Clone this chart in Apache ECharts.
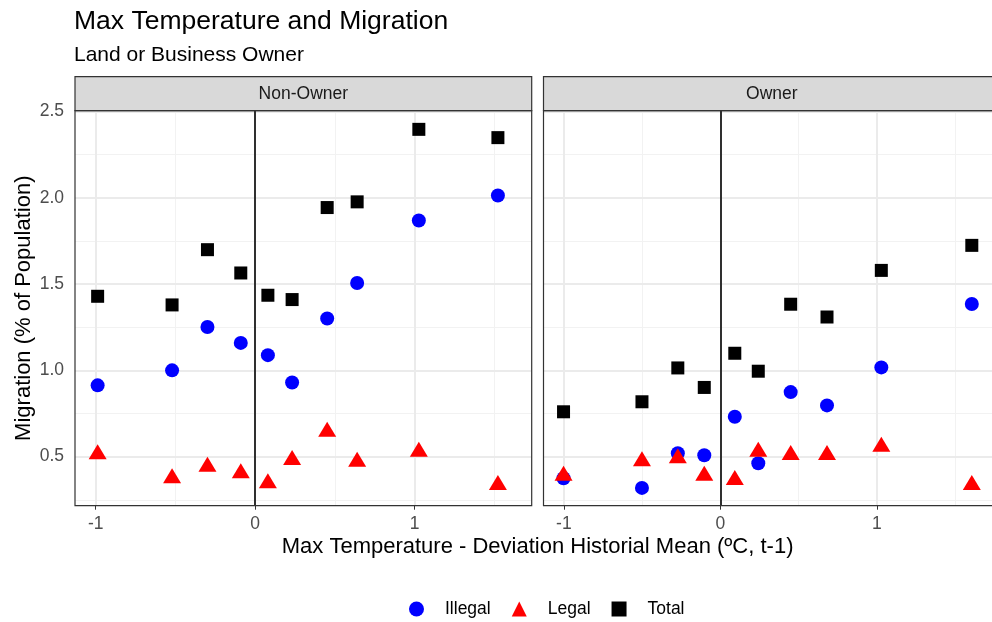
<!DOCTYPE html>
<html>
<head>
<meta charset="utf-8">
<title>Max Temperature and Migration</title>
<script src="https://cdn.jsdelivr.net/npm/echarts@6.0.0/dist/echarts.min.js"></script>
<style>
  html, body { margin: 0; padding: 0; background: #fff; }
  #chart { width: 992px; height: 622px; }
</style>
</head>
<body>
<div id="chart"></div>
<script>
// 刻度与网格
const xTicks = [-1, 0, 1];
const xMinorGrid = [-0.5, 0.5, 1.5];
const yTicks = [0.5, 1.0, 1.5, 2.0, 2.5];
const yMinorGrid = [0.25, 0.75, 1.25, 1.75, 2.25];

// Non-Owner 面板
const nonOwnerTemp = [-0.988, -0.521, -0.299, -0.090, 0.080, 0.232, 0.452, 0.640, 1.027, 1.523];
const nonOwnerIllegal = [0.913, 1.000, 1.251, 1.159, 1.088, 0.930, 1.300, 1.506, 1.868, 2.013];
const nonOwnerLegal = [0.514, 0.375, 0.442, 0.404, 0.346, 0.481, 0.645, 0.471, 0.529, 0.336];
const nonOwnerTotal = [1.429, 1.379, 1.699, 1.564, 1.435, 1.410, 1.943, 1.976, 2.396, 2.348];

// Owner 面板
const ownerTemp = [-1.002, -0.501, -0.272, -0.103, 0.092, 0.242, 0.449, 0.681, 1.028, 1.606];
const ownerIllegal = [0.375, 0.319, 0.520, 0.508, 0.731, 0.462, 0.874, 0.797, 1.017, 1.384];
const ownerLegal = [0.390, 0.473, 0.491, 0.390, 0.365, 0.529, 0.510, 0.510, 0.558, 0.336];
const ownerTotal = [0.760, 0.818, 1.014, 0.901, 1.099, 0.995, 1.383, 1.309, 1.579, 1.724];

const FONT = "Liberation Sans, Arial, sans-serif";
const panelLeft = [75, 543.5];
const panelW = 456.7;
const panelTop = 110.7;
const panelH = 395;

const pairs = (xs, ys) => xs.map((x, i) => [x, ys[i]]);

function xAxisOpt(gridIndex) {
  return {
    type: "value",
    gridIndex: gridIndex,
    min: -1.13,
    max: 1.735,
    axisLine: { show: false },
    splitLine: { show: false },
    axisTick: { show: true, customValues: xTicks, length: 4, lineStyle: { color: "#333333", width: 1 } },
    axisLabel: {
      customValues: xTicks,
      color: "#4d4d4d",
      fontSize: 17.5,
      fontFamily: FONT,
      margin: 9,
      formatter: v => String(v)
    }
  };
}

function yAxisOpt(gridIndex, withLabels) {
  return {
    type: "value",
    gridIndex: gridIndex,
    min: 0.216,
    max: 2.504,
    axisLine: { show: false },
    splitLine: { show: false },
    axisTick: { show: withLabels, customValues: yTicks, length: 4, lineStyle: { color: "#333333", width: 1 } },
    axisLabel: {
      show: withLabels,
      customValues: yTicks,
      color: "#4d4d4d",
      fontSize: 17.5,
      fontFamily: FONT,
      margin: 11,
      formatter: v => v.toFixed(1)
    },
    name: withLabels ? "Migration (% of Population)" : "",
    nameLocation: "middle",
    nameRotate: 90,
    nameGap: 40,
    nameTextStyle: { color: "#000", fontSize: 22, fontFamily: FONT }
  };
}

// 网格线（主/次）和 0 参考线
function gridLines(idx) {
  const data = [];
  yMinorGrid.forEach(v => data.push({ yAxis: v, lineStyle: { color: "#f2f2f2", width: 1, type: "solid" } }));
  xMinorGrid.forEach(v => data.push({ xAxis: v, lineStyle: { color: "#f2f2f2", width: 1, type: "solid" } }));
  yTicks.forEach(v => data.push({ yAxis: v, lineStyle: { color: "#ebebeb", width: 2, type: "solid" } }));
  xTicks.forEach(v => data.push({ xAxis: v, lineStyle: { color: "#ebebeb", width: 2, type: "solid" } }));
  return {
    type: "scatter",
    name: "grid" + idx,
    xAxisIndex: idx,
    yAxisIndex: idx,
    data: [],
    z: 1,
    silent: true,
    markLine: {
      z: 1,
      silent: true,
      animation: false,
      symbol: ["none", "none"],
      label: { show: false },
      data: data
    }
  };
}

function zeroLine(idx) {
  return {
    type: "scatter",
    name: "zero" + idx,
    xAxisIndex: idx,
    yAxisIndex: idx,
    data: [],
    z: 2,
    silent: true,
    markLine: {
      z: 2,
      silent: true,
      animation: false,
      symbol: ["none", "none"],
      label: { show: false },
      data: [{ xAxis: 0, lineStyle: { color: "#000000", width: 1.6, type: "solid" } }]
    }
  };
}

function pointSeries(idx, name, data, symbol, size, color, offset) {
  return {
    type: "scatter",
    name: name,
    xAxisIndex: idx,
    yAxisIndex: idx,
    data: data,
    symbol: symbol,
    symbolSize: size,
    symbolOffset: offset || [0, 0],
    itemStyle: { color: color, opacity: 1 },
    z: 5,
    animation: false
  };
}

const chart = echarts.init(document.getElementById("chart"), null, { renderer: "canvas" });

const strips = [
  { label: "Non-Owner", left: panelLeft[0] },
  { label: "Owner", left: panelLeft[1] }
];

const graphics = [];
strips.forEach(s => {
  graphics.push({
    type: "rect",
    z: 10,
    shape: { x: s.left, y: 76.7, width: panelW, height: panelTop - 76.7 },
    style: { fill: "#d9d9d9", stroke: "#333333", lineWidth: 1.2 }
  });
  graphics.push({
    type: "text",
    z: 11,
    x: s.left + panelW / 2,
    y: 94,
    style: { text: s.label, fill: "#1a1a1a", font: "17.5px " + FONT, align: "center", verticalAlign: "middle" }
  });
  graphics.push({
    type: "rect",
    z: 10,
    shape: { x: s.left, y: panelTop, width: panelW, height: panelH },
    style: { fill: null, stroke: "#333333", lineWidth: 1.2 }
  });
});
graphics.push({
  type: "text",
  z: 11,
  x: (panelLeft[0] + panelLeft[1] + panelW) / 2,
  y: 547,
  style: {
    text: "Max Temperature - Deviation Historial Mean (ºC, t-1)",
    fill: "#000", font: "22px " + FONT, align: "center", verticalAlign: "middle"
  }
});

const option = {
  backgroundColor: "#ffffff",
  animation: false,
  title: [
    { text: "Max Temperature and Migration", left: 74, top: 8, padding: 0,
      textStyle: { fontSize: 26.5, fontWeight: "normal", color: "#000", fontFamily: FONT } },
    { text: "Land or Business Owner", left: 74, top: 45, padding: 0,
      textStyle: { fontSize: 21, fontWeight: "normal", color: "#000", fontFamily: FONT } }
  ],
  legend: {
    data: ["Illegal", "Legal", "Total"],
    left: 409,
    top: 600,
    padding: 0,
    itemWidth: 15,
    itemHeight: 15,
    itemGap: 21,
    textStyle: { fontSize: 17.5, color: "#000", fontFamily: FONT, padding: [0, 0, 0, 16] }
  },
  grid: [
    { left: panelLeft[0], top: panelTop, width: panelW, height: panelH, show: false },
    { left: panelLeft[1], top: panelTop, width: panelW, height: panelH, show: false }
  ],
  xAxis: [xAxisOpt(0), xAxisOpt(1)],
  yAxis: [yAxisOpt(0, true), yAxisOpt(1, false)],
  graphic: graphics,
  series: [
    gridLines(0), gridLines(1),
    zeroLine(0), zeroLine(1),
    pointSeries(0, "Illegal", pairs(nonOwnerTemp, nonOwnerIllegal), "circle", 14, "#0000ff"),
    pointSeries(0, "Legal", pairs(nonOwnerTemp, nonOwnerLegal), "triangle", [18, 15], "#ff0000", [0, -2.5]),
    pointSeries(0, "Total", pairs(nonOwnerTemp, nonOwnerTotal), "rect", 13, "#000000"),
    pointSeries(1, "Illegal", pairs(ownerTemp, ownerIllegal), "circle", 14, "#0000ff"),
    pointSeries(1, "Legal", pairs(ownerTemp, ownerLegal), "triangle", [18, 15], "#ff0000", [0, -2.5]),
    pointSeries(1, "Total", pairs(ownerTemp, ownerTotal), "rect", 13, "#000000")
  ]
};

chart.setOption(option);
</script>
</body>
</html>
